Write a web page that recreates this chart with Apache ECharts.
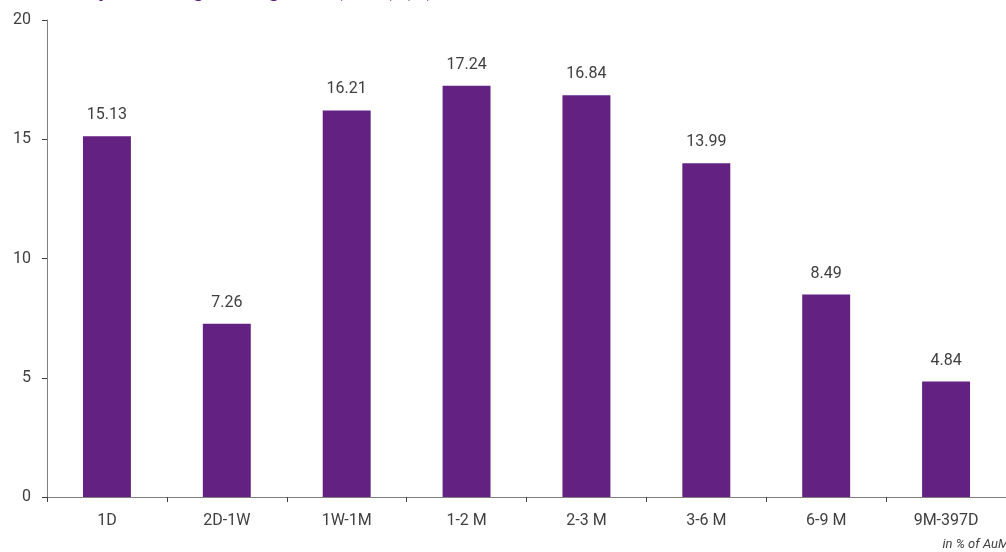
<!DOCTYPE html>
<html><head><meta charset="utf-8">
<script src="https://cdn.jsdelivr.net/npm/echarts@6/dist/echarts.min.js"></script>
<style>html,body{margin:0;padding:0;background:#fff}#c{width:1006px;height:552px}</style>
</head><body><div id="c"></div>
<script>
const categories = ['1D','2D-1W','1W-1M','1-2 M','2-3 M','3-6 M','6-9 M','9M-397D'];
const values = [15.13, 7.26, 16.21, 17.24, 16.84, 13.99, 8.49, 4.84];
const titleText = 'Redemption Range Categories (AuM) (%)';
const noteText = 'in % of AuM';

const chart = echarts.init(document.getElementById('c'));
chart.setOption({
  animation: false,
  title: [{
    text: titleText, left: 24, top: -26,
    textStyle: {color: '#632282', fontSize: 22, fontWeight: 'bold', fontFamily: 'Roboto'}
  }, {
    text: noteText, right: -8, top: 533,
    textStyle: {color: '#404040', fontSize: 13, fontStyle: 'italic', fontWeight: 'normal', fontFamily: 'Roboto'}
  }],
  grid: {left: 47, right: -2, top: 20, bottom: 55, containLabel: false},
  xAxis: {
    type: 'category', data: categories,
    axisLine: {lineStyle: {color: '#7f7f7f', width: 1}},
    axisTick: {show: true, alignWithLabel: false, length: 5, lineStyle: {color: '#404040'}},
    axisLabel: {color: '#404040', fontSize: 16, fontFamily: 'Roboto', margin: 16}
  },
  yAxis: {
    type: 'value', min: 0, max: 20, interval: 5,
    splitLine: {show: false},
    axisLine: {show: true, lineStyle: {color: '#7f7f7f', width: 1}},
    axisTick: {show: true, length: 5, lineStyle: {color: '#404040'}},
    axisLabel: {color: '#404040', fontSize: 16, fontFamily: 'Roboto', margin: 16}
  },
  series: [{
    type: 'bar', data: values, barWidth: '40%',
    itemStyle: {color: '#632282'},
    label: {show: true, position: 'top', distance: 13, color: '#404040', fontSize: 16, fontFamily: 'Roboto',
      formatter: p => p.value.toFixed(2)}
  }]
});
</script></body></html>
